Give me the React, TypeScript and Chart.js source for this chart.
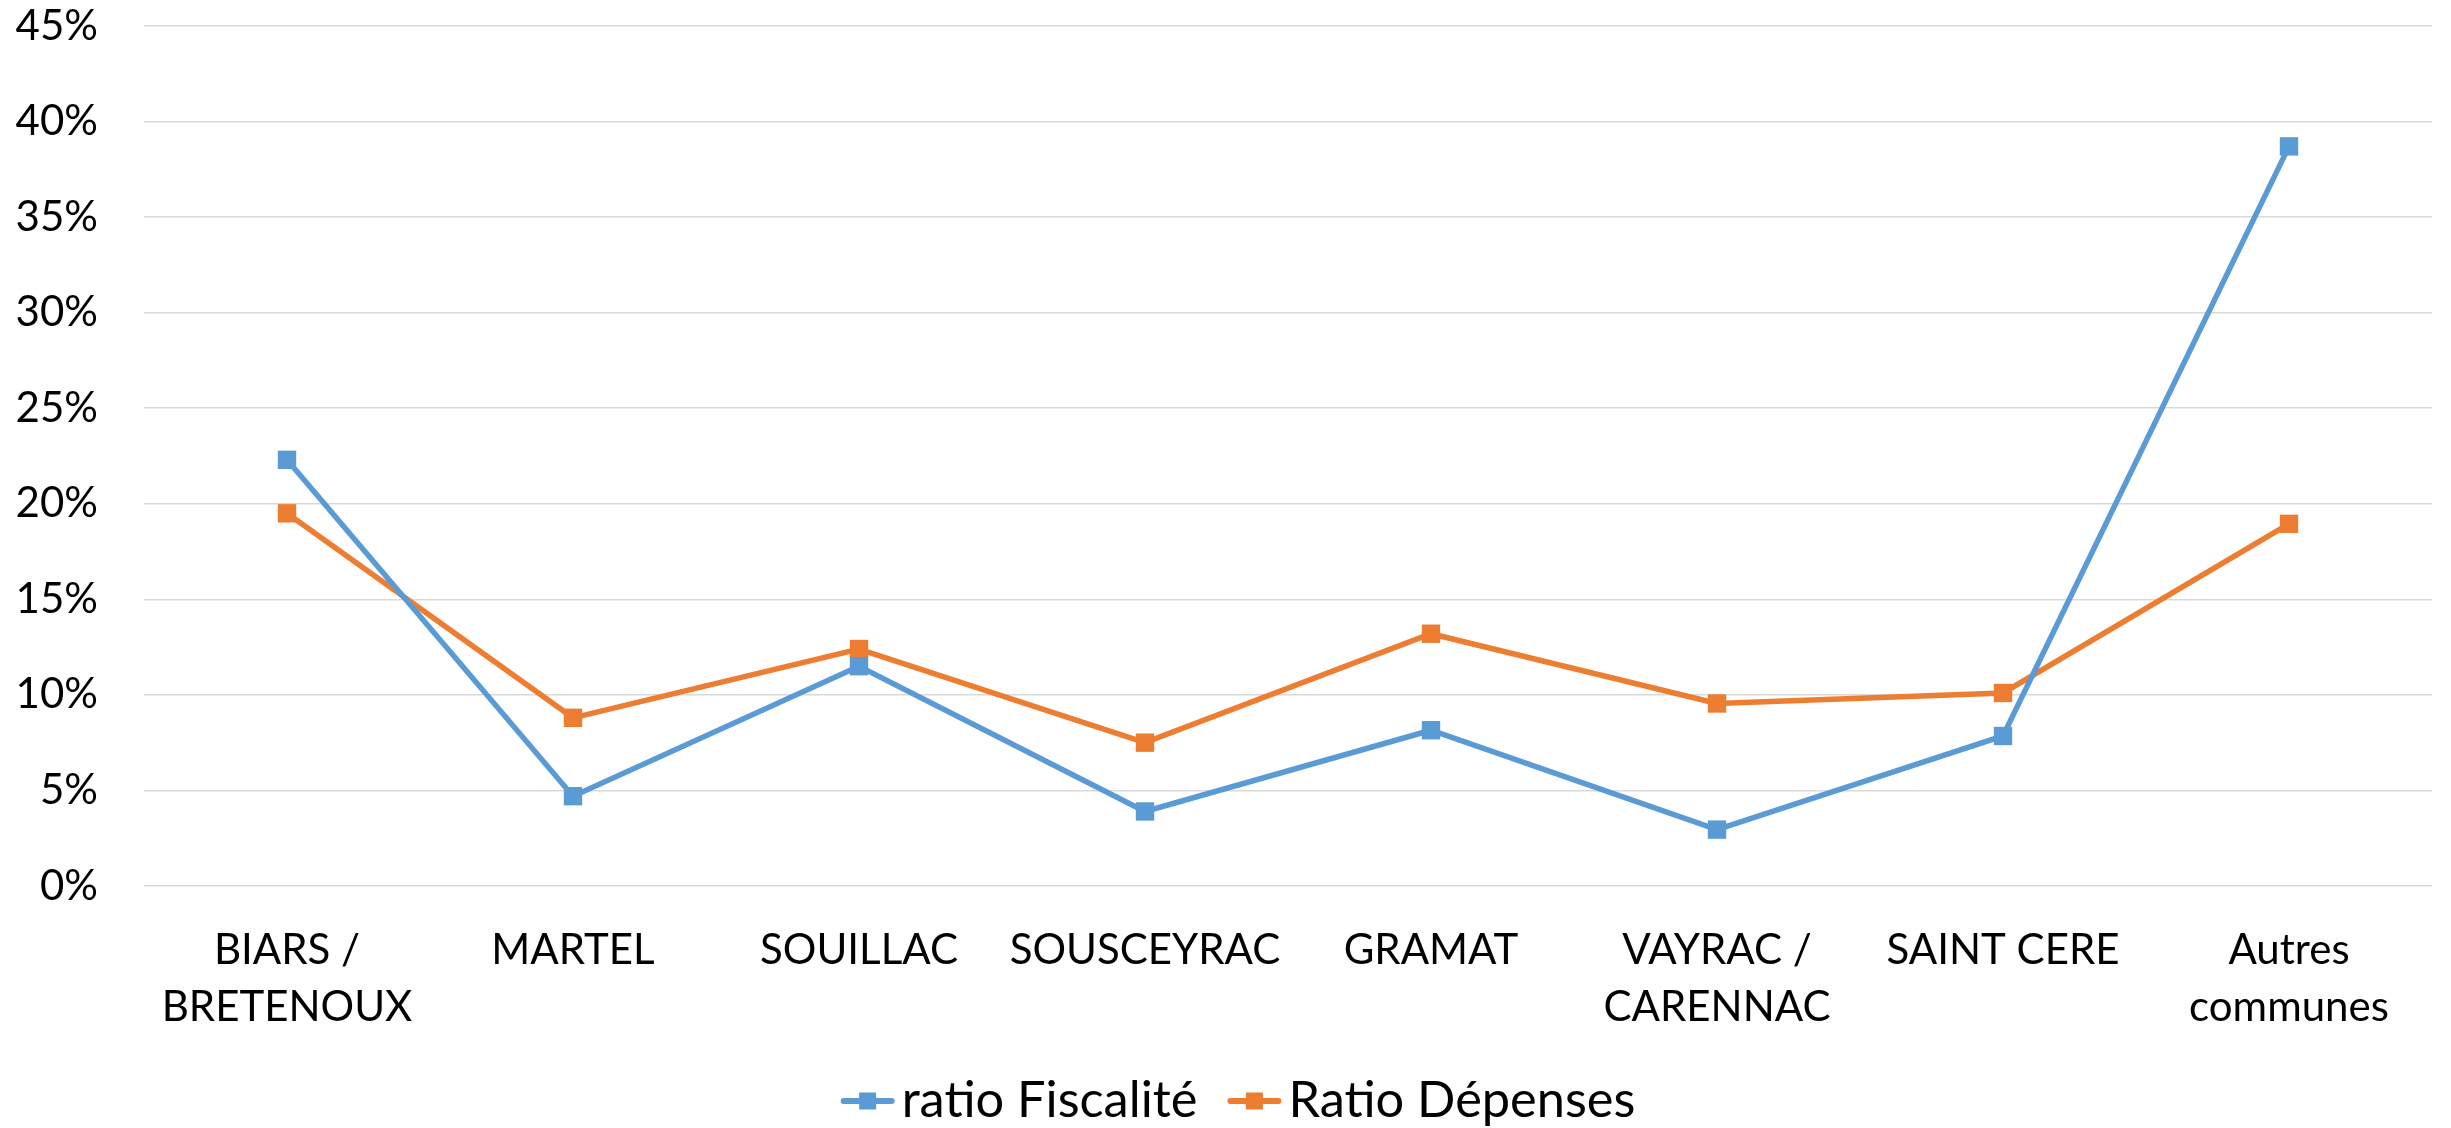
import React, { useEffect, useRef } from "react";
import { Chart, registerables } from "chart.js";

Chart.register(...registerables);

const categories: (string | string[])[] = [
  ["BIARS /", "BRETENOUX"],
  "MARTEL",
  "SOUILLAC",
  "SOUSCEYRAC",
  "GRAMAT",
  ["VAYRAC /", "CARENNAC"],
  "SAINT CERE",
  ["Autres", "communes"],
];
const ratioFiscalite = [22.3, 4.7, 11.5, 3.9, 8.15, 2.95, 7.85, 38.7];
const ratioDepenses = [19.5, 8.8, 12.4, 7.5, 13.2, 9.55, 10.1, 18.95];
const seriesNames = ["ratio Fiscalité", "Ratio Dépenses"];
const yTicksMin = 0;
const yTicksMax = 45;
const yTicksStep = 5;

const BLUE = "#5B9BD5";
const ORANGE = "#ED7D31";
const FONT_FAMILY = "Lato, 'Open Sans', sans-serif";
const FONT_SIZE = 42;
const LEGEND_FONT_SIZE = 50.5;

const legendPlugin = {
  id: "excelLegend",
  afterDraw(chart: any) {
    const ctx = chart.ctx as CanvasRenderingContext2D;
    ctx.save();
    ctx.font = `${LEGEND_FONT_SIZE}px ${FONT_FAMILY}`;
    ctx.textBaseline = "middle";
    ctx.textAlign = "left";
    const markerW = 54;
    const gapText = 7;
    const gapItems = 30;
    const items = chart.data.datasets.map((ds: any) => ({
      text: ds.label,
      color: ds.borderColor,
      w: markerW + gapText + ctx.measureText(ds.label).width,
    }));
    const total = items.reduce((s: number, it: any) => s + it.w, 0) + gapItems * (items.length - 1);
    const centerX = 1238;
    const y = 1101;
    let x = centerX - total / 2;
    items.forEach((it: any) => {
      ctx.strokeStyle = it.color;
      ctx.lineWidth = 6;
      ctx.lineCap = "round";
      ctx.beginPath();
      ctx.moveTo(x + 3, y);
      ctx.lineTo(x + markerW - 3, y);
      ctx.stroke();
      ctx.fillStyle = it.color;
      ctx.fillRect(x + markerW / 2 - 8.5, y - 8.5, 17, 17);
      ctx.fillStyle = "#000000";
      ctx.fillText(it.text, x + markerW + gapText, y);
      x += it.w + gapItems;
    });
    ctx.restore();
  },
};

export default function App() {
  const canvasRef = useRef<HTMLCanvasElement | null>(null);

  useEffect(() => {
    if (!canvasRef.current) return;
    const makeDs = (label: string, data: number[], color: string) => ({
      label,
      data,
      borderColor: color,
      backgroundColor: color,
      borderWidth: 5.5,
      pointStyle: "rect",
      pointRadius: 13,
      pointBorderWidth: 0,
      pointBackgroundColor: color,
      tension: 0,
      clip: false as any,
    });
    const chart = new Chart(canvasRef.current, {
      type: "line",
      data: {
        labels: categories,
        datasets: [
          makeDs(seriesNames[0], ratioFiscalite, BLUE),
          makeDs(seriesNames[1], ratioDepenses, ORANGE),
        ] as any,
      },
      options: {
        responsive: false,
        animation: false,
        layout: { padding: { left: 0, right: 19, top: 26, bottom: 0 } },
        plugins: {
          legend: { display: false },
          tooltip: { enabled: false },
        },
        scales: {
          x: {
            offset: true,
            grid: { display: false, drawTicks: false },
            border: { display: false },
            ticks: {
              color: "#000000",
              font: { family: FONT_FAMILY, size: FONT_SIZE, lineHeight: 1.38 },
              padding: 35,
              maxRotation: 0,
              autoSkip: false,
            },
            afterFit: (scale: any) => {
              scale.height = 242;
              scale.paddingLeft = 0;
              scale.paddingRight = 0;
            },
          },
          y: {
            min: yTicksMin,
            max: yTicksMax,
            grid: { color: "#D9D9D9", lineWidth: 1.5, drawTicks: false },
            border: { display: false },
            ticks: {
              stepSize: yTicksStep,
              color: "#000000",
              font: { family: FONT_FAMILY, size: FONT_SIZE },
              padding: 46,
              callback: (v: any) => `${v}%`,
            },
            afterFit: (scale: any) => {
              scale.width = 144;
              scale.paddingTop = 0;
              scale.paddingBottom = 0;
            },
          },
        },
      },
      plugins: [legendPlugin],
    });
    return () => chart.destroy();
  }, []);

  return (
    <div style={{ position: "absolute", left: 0, top: 0, width: 2451, height: 1128, background: "#ffffff" }}>
      <canvas ref={canvasRef} width={2451} height={1128} style={{ display: "block" }} />
    </div>
  );
}
